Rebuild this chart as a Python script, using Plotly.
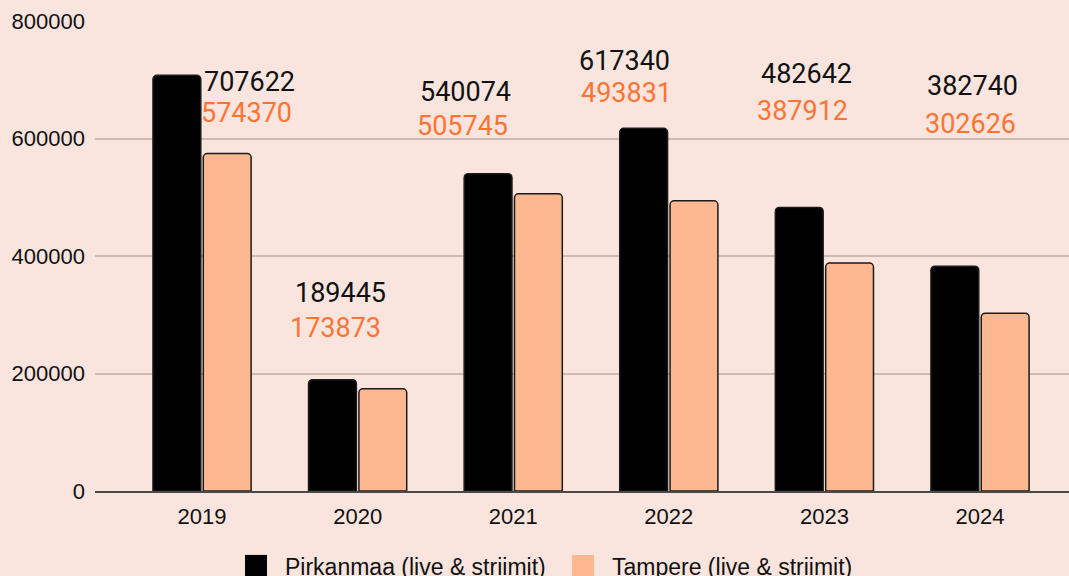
import plotly.graph_objects as go

years = ["2019", "2020", "2021", "2022", "2023", "2024"]
pirkanmaa = [707622, 189445, 540074, 617340, 482642, 382740]
tampere = [574370, 173873, 505745, 493831, 387912, 302626]
y_ticks = [0, 200000, 400000, 600000, 800000]

series_names = ["Pirkanmaa (live & striimit)", "Tampere (live & striimit)"]

BG = "#F9E5DE"
ORANGE_BAR = "#FDB890"
ORANGE_TEXT = "#FF7433"

# hand-placed value labels (category offset, label height on y scale)
black_label_pos = [(0.308, 696000), (0.887, 337000), (1.690, 679000),
                   (2.718, 732000), (3.882, 709000), (4.949, 689000)]
orange_label_pos = [(0.286, 643000), (0.858, 277000), (1.671, 622000),
                    (2.725, 678000), (3.856, 647000), (4.942, 625000)]

fig = go.Figure()
fig.add_trace(go.Bar(
    x=years, y=pirkanmaa, name=series_names[0],
    marker=dict(color="black", line=dict(color="#1a1a1a", width=1.5)),
))
fig.add_trace(go.Bar(
    x=years, y=tampere, name=series_names[1],
    marker=dict(color=ORANGE_BAR, line=dict(color="#1a1a1a", width=1.5)),
))

annotations = []
for (dx, yy), val in zip(black_label_pos, pirkanmaa):
    annotations.append(dict(x=dx, y=yy, xref="x", yref="y", text=str(val),
                            showarrow=False, yanchor="middle",
                            font=dict(family="Roboto", size=27, color="#111")))
for (dx, yy), val in zip(orange_label_pos, tampere):
    annotations.append(dict(x=dx, y=yy, xref="x", yref="y", text=str(val),
                            showarrow=False, yanchor="middle",
                            font=dict(family="Roboto", size=27, color=ORANGE_TEXT)))

# legend drawn by hand so the swatches can be as big as the original
shapes = []
swatches = [(0.154, 0.1766, "black"), (0.4897, 0.5123, ORANGE_BAR)]
text_x = [0.193, 0.5287]
for (x0, x1, col), tx, name in zip(swatches, text_x, series_names):
    shapes.append(dict(type="rect", xref="paper", yref="paper",
                       x0=x0, x1=x1, y0=-0.19, y1=-0.136,
                       fillcolor=col, line=dict(color=col, width=0)))
    annotations.append(dict(x=tx, y=-0.162, xref="paper", yref="paper",
                            text=name, showarrow=False, xanchor="left",
                            yanchor="middle",
                            font=dict(family="Liberation Sans", size=23, color="#111")))

fig.update_layout(
    width=1069, height=576,
    margin=dict(l=95, r=0, t=21, b=85),
    paper_bgcolor=BG, plot_bgcolor=BG,
    barmode="group", bargap=0.353, bargroupgap=0.05,
    barcornerradius=4,
    showlegend=False,
    annotations=annotations,
    shapes=shapes,
    font=dict(family="Liberation Sans", size=22, color="#111"),
)
fig.update_xaxes(
    type="category", range=[-0.688, 5.572],
    showline=True, linecolor="#4a4a4a", linewidth=1.5,
    showgrid=False, ticks="", ticklabelstandoff=5,
    tickfont=dict(family="Liberation Sans", size=22, color="#111"),
)
fig.update_yaxes(
    range=[0, 800000], tickvals=y_ticks, tickformat="d",
    showgrid=True, gridcolor="#CDBBB3", gridwidth=1.5,
    zeroline=False, showline=False, ticklabelstandoff=9,
    tickfont=dict(family="Liberation Sans", size=22, color="#111"),
)

fig.write_html("out.html", config={"displayModeBar": False},
               post_script="document.body.style.margin='0';")
